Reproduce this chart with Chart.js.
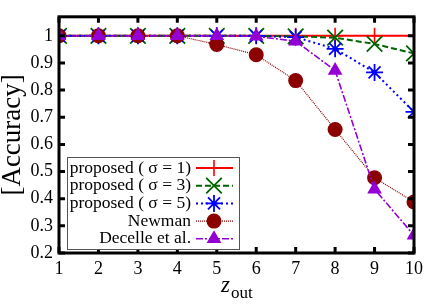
<!DOCTYPE html>
<html>
<head>
<meta charset="utf-8">
<script src="https://cdn.jsdelivr.net/npm/chart.js@4.4.0/dist/chart.umd.min.js"></script>
<style>
  html, body { margin: 0; padding: 0; background: #fff; }
  #wrap { width: 436px; height: 305px; }
</style>
</head>
<body>
<div id="wrap"><canvas id="accChart"></canvas></div>
<script>
// data
const zOut = [1, 2, 3, 4, 5, 6, 7, 8, 9, 10];
const sigma1 = [1, 1, 1, 1, 1, 1, 1, 1, 1, 1];
const sigma3 = [1, 1, 1, 1, 1, 1, 0.998, 0.993, 0.97, 0.935];
const sigma5 = [1, 1, 1, 1, 1, 1, 0.995, 0.952, 0.865, 0.72];
const newman = [1, 1, 1, 1, 0.968, 0.93, 0.835, 0.655, 0.477, 0.388];
const decelle = [1, 1, 1, 1, 1, 0.998, 0.98, 0.872, 0.435, 0.265];
const yTicks = [0.2, 0.3, 0.4, 0.5, 0.6, 0.7, 0.8, 0.9, 1];
const xTicks = [1, 2, 3, 4, 5, 6, 7, 8, 9, 10];
const seriesNames = ['proposed ( \u03c3 = 1)', 'proposed ( \u03c3 = 3)', 'proposed ( \u03c3 = 5)', 'Newman', 'Decelle et al.'];

const serif = "'Liberation Serif', 'DejaVu Serif', serif";

function pts(vals) {
	return vals.map((v, i) => ({x: zOut[i], y: v}));
}

// frame, inward ticks, x title, legend box
const framePlugin = {
	id: 'frame',
	afterDatasetsDraw(chart) {
		const ctx = chart.ctx;
		const a = chart.chartArea;
		const xs = chart.scales.x, ys = chart.scales.y;
		ctx.save();
		ctx.strokeStyle = '#000';
		ctx.lineWidth = 3;
		// ticks on all four sides
		ctx.beginPath();
		xTicks.forEach(v => {
			const px = xs.getPixelForValue(v);
			ctx.moveTo(px, a.bottom); ctx.lineTo(px, a.bottom - 6);
			ctx.moveTo(px, a.top); ctx.lineTo(px, a.top + 6);
		});
		yTicks.forEach(v => {
			const py = ys.getPixelForValue(v);
			ctx.moveTo(a.left, py); ctx.lineTo(a.left + 6, py);
			ctx.moveTo(a.right, py); ctx.lineTo(a.right - 6, py);
		});
		ctx.stroke();
		ctx.strokeRect(a.left, a.top, a.right - a.left, a.bottom - a.top);

		// x axis title: z_out
		ctx.fillStyle = '#000';
		ctx.textBaseline = 'alphabetic';
		ctx.textAlign = 'left';
		ctx.font = 'italic 23px ' + serif;
		ctx.fillText('z', 221, 292);
		ctx.font = '17px ' + serif;
		ctx.fillText('out', 231, 298);

		// legend
		const bx = 67, by = 157, bw = 172, bh = 92;
		ctx.fillStyle = '#fff';
		ctx.fillRect(bx, by, bw, bh);
		ctx.lineWidth = 1;
		ctx.strokeStyle = '#555';
		ctx.strokeRect(bx + 0.5, by + 0.5, bw, bh);
		ctx.font = '17.5px ' + serif;
		ctx.textAlign = 'right';
		ctx.textBaseline = 'middle';
		chart.data.datasets.forEach((ds, i) => {
			const yy = 168 + i * 17.7;
			ctx.fillStyle = '#000';
			ctx.fillText(seriesNames[i], 191, yy);
			ctx.strokeStyle = ds.borderColor;
			ctx.lineWidth = ds.borderWidth;
			ctx.setLineDash(ds.borderDash || []);
			ctx.beginPath();
			ctx.moveTo(196, yy); ctx.lineTo(233, yy);
			ctx.stroke();
			ctx.setLineDash([]);
			ctx.fillStyle = ds.pointBackgroundColor;
			ctx.strokeStyle = ds.pointBorderColor;
			ctx.lineWidth = ds.pointBorderWidth;
			Chart.helpers.drawPoint(ctx, {
				pointStyle: ds.pointStyle,
				radius: ds.pointRadius,
				rotation: 0,
				borderWidth: ds.pointBorderWidth
			}, 214, yy);
		});
		ctx.restore();
	}
};

new Chart(document.getElementById('accChart'), {
	type: 'line',
	data: {
		datasets: [{
			label: seriesNames[0],
			data: pts(sigma1),
			borderColor: '#ff0000',
			borderWidth: 2,
			pointStyle: 'cross',
			pointRadius: 8,
			pointBorderColor: '#ff0000',
			pointBackgroundColor: '#ff0000',
			pointBorderWidth: 1.6,
			order: 5
		}, {
			label: seriesNames[1],
			data: pts(sigma3),
			borderColor: '#006400',
			borderWidth: 2,
			borderDash: [6, 3],
			pointStyle: 'crossRot',
			pointRadius: 11,
			pointBorderColor: '#006400',
			pointBackgroundColor: '#006400',
			pointBorderWidth: 1.8,
			order: 4
		}, {
			label: seriesNames[2],
			data: pts(sigma5),
			borderColor: '#0000ff',
			borderWidth: 2,
			borderDash: [2, 3],
			pointStyle: 'star',
			pointRadius: 8.5,
			pointBorderColor: '#0000ff',
			pointBackgroundColor: '#0000ff',
			pointBorderWidth: 1.8,
			order: 3
		}, {
			label: seriesNames[3],
			data: pts(newman),
			borderColor: '#8b0000',
			borderWidth: 1.2,
			borderDash: [1, 1],
			pointStyle: 'circle',
			pointRadius: 7.5,
			pointBorderColor: '#8b0000',
			pointBackgroundColor: '#8b0000',
			pointBorderWidth: 0,
			order: 2
		}, {
			label: seriesNames[4],
			data: pts(decelle),
			borderColor: '#9400d3',
			borderWidth: 1.6,
			borderDash: [7, 2, 2, 2],
			pointStyle: 'triangle',
			pointRadius: 8.5,
			pointBorderColor: '#9400d3',
			pointBackgroundColor: '#9400d3',
			pointBorderWidth: 0,
			order: 1
		}]
	},
	options: {
		responsive: true,
		maintainAspectRatio: false,
		animation: false,
		events: [],
		layout: {
			padding: {top: 14, right: 22, left: 0, bottom: 0}
		},
		plugins: {
			legend: {display: false},
			tooltip: {enabled: false}
		},
		elements: {
			line: {tension: 0}
		},
		scales: {
			x: {
				type: 'linear',
				min: 1,
				max: 10,
				grid: {display: false, drawTicks: false},
				border: {display: false},
				afterBuildTicks: s => { s.ticks = xTicks.map(v => ({value: v})); },
				afterFit: s => { s.height = 52; },
				ticks: {
					color: '#000',
					padding: 5,
					maxRotation: 0,
					autoSkip: false,
					font: {family: serif, size: 18}
				}
			},
			y: {
				min: 0.2,
				max: 1.07,
				grid: {display: false, drawTicks: false},
				border: {display: false},
				afterBuildTicks: s => { s.ticks = yTicks.map(v => ({value: v})); },
				afterFit: s => { s.width = 59; },
				ticks: {
					color: '#000',
					padding: 6,
					autoSkip: false,
					font: {family: serif, size: 18},
					callback: v => v === 1 ? '1' : v.toFixed(1)
				},
				title: {
					display: true,
					text: '[Accuracy]',
					color: '#000',
					padding: {top: -1, bottom: 0},
					font: {family: serif, size: 27, lineHeight: 1}
				}
			}
		}
	},
	plugins: [framePlugin]
});
</script>
</body>
</html>
